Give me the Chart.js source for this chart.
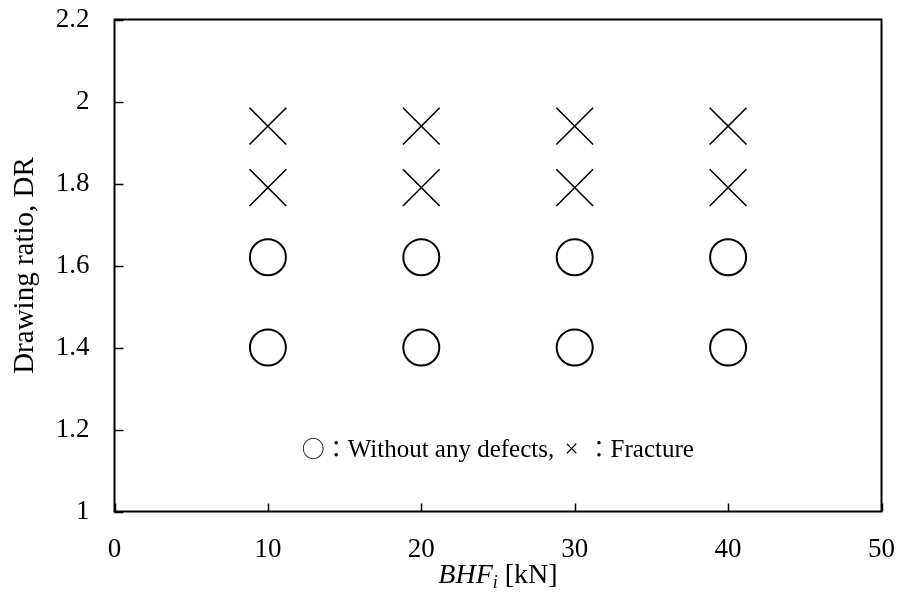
<!DOCTYPE html>
<html>
<head>
<meta charset="utf-8">
<script src="https://cdn.jsdelivr.net/npm/chart.js@4.4.0/dist/chart.umd.min.js"></script>
<style>
html, body { margin: 0; padding: 0; background: #fff; }
</style>
</head>
<body>
<canvas id="myChart" width="899" height="607"></canvas>
<script>
// values
const bhfLevels = [10, 20, 30, 40];
const okRatios = [1.4, 1.62];        // circles: without any defects
const fractureRatios = [1.79, 1.94]; // crosses: fracture
const xTicks = [0, 10, 20, 30, 40, 50];
const yTicks = [1, 1.2, 1.4, 1.6, 1.8, 2, 2.2];
// note pieces: [text, cjk?, extra gap after]
const noteParts = [['○：', true, 0], ['Without any defects, ', false, 4], ['×', false, 9], ['：', true, 0], ['Fracture', false, 0]];

const serif = "'Liberation Serif', 'Times New Roman', serif";
const cjk = "'Noto Sans CJK JP', sans-serif";

const makePoints = (ratios) => {
    const pts = [];
    for (let i = 0; i < ratios.length; i++) {
        for (let j = 0; j < bhfLevels.length; j++) {
            pts.push({ x: bhfLevels[j], y: ratios[i] });
        }
    }
    return pts;
};

// box round the plot, inward ticks, note and x title
const framePlugin = {
    id: 'frame',
    afterDraw(chart) {
        const ctx = chart.ctx;
        const area = chart.chartArea;
        const xs = chart.scales.x;
        const ys = chart.scales.y;
        ctx.save();
        ctx.strokeStyle = '#000';
        ctx.lineWidth = 2;
        ctx.strokeRect(area.left, area.top, area.right - area.left, area.bottom - area.top);

        ctx.lineWidth = 1.5;
        ctx.beginPath();
        xTicks.forEach(v => {
            const px = Math.round(xs.getPixelForValue(v)) + 0.5;
            ctx.moveTo(px, area.bottom);
            ctx.lineTo(px, area.bottom - 8);
        });
        yTicks.forEach(v => {
            const py = Math.round(ys.getPixelForValue(v)) + 0.5;
            ctx.moveTo(area.left, py);
            ctx.lineTo(area.left + 9, py);
        });
        ctx.stroke();

        // note inside the plot
        ctx.fillStyle = '#000';
        ctx.textAlign = 'left';
        ctx.textBaseline = 'alphabetic';
        let nx = xs.getPixelForValue(12.2);
        const ny = ys.getPixelForValue(1.133);
        noteParts.forEach(p => {
            ctx.font = p[1] ? '23px ' + cjk : '25px ' + serif;
            ctx.fillText(p[0], nx, ny);
            nx += ctx.measureText(p[0]).width + p[2];
        });

        // x title: BHF_i [kN]
        const baseY = 583;
        const partA = 'BHF';
        const partB = 'i';
        const partC = ' [kN]';
        ctx.font = 'italic 28px ' + serif;
        const wA = ctx.measureText(partA).width;
        ctx.font = 'italic 18px ' + serif;
        const wB = ctx.measureText(partB).width;
        ctx.font = '28px ' + serif;
        const wC = ctx.measureText(partC).width;
        let x0 = (area.left + area.right) / 2 - (wA + wB + wC) / 2;
        ctx.font = 'italic 28px ' + serif;
        ctx.fillText(partA, x0, baseY);
        ctx.font = 'italic 18px ' + serif;
        ctx.fillText(partB, x0 + wA, baseY + 5);
        ctx.font = '28px ' + serif;
        ctx.fillText(partC, x0 + wA + wB, baseY);
        ctx.restore();
    }
};

new Chart(document.getElementById('myChart'), {
    type: 'scatter',
    data: {
        datasets: [{
            label: 'Without any defects',
            data: makePoints(okRatios),
            pointStyle: 'circle',
            pointRadius: 18,
            pointHoverRadius: 18,
            pointBorderWidth: 2,
            pointBackgroundColor: 'rgba(0,0,0,0)',
            pointBorderColor: '#000'
        }, {
            label: 'Fracture',
            data: makePoints(fractureRatios),
            pointStyle: 'crossRot',
            pointRadius: 26,
            pointHoverRadius: 26,
            pointBorderWidth: 1.6,
            pointBorderColor: '#000'
        }]
    },
    options: {
        responsive: false,
        animation: false,
        devicePixelRatio: 1,
        layout: { autoPadding: false, padding: { top: 19.5, right: 17.5, left: 0, bottom: 0 } },
        plugins: {
            legend: { display: false },
            tooltip: { enabled: false }
        },
        scales: {
            x: {
                type: 'linear',
                min: 0,
                max: 50,
                afterBuildTicks: (scale) => { scale.ticks = xTicks.map(v => ({ value: v })); },
                afterFit: (scale) => {
                    scale.height = 95.5;
                    scale.paddingLeft = 0;
                    scale.paddingRight = 0;
                },
                grid: { display: false, drawTicks: false },
                border: { display: false },
                ticks: {
                    padding: 22,
                    color: '#000',
                    font: { family: serif, size: 27 }
                }
            },
            y: {
                type: 'linear',
                min: 1,
                max: 2.2,
                afterBuildTicks: (scale) => { scale.ticks = yTicks.map(v => ({ value: v })); },
                afterFit: (scale) => {
                    scale.width = 114.5;
                    scale.paddingTop = 0;
                    scale.paddingBottom = 0;
                },
                grid: { display: false, drawTicks: false },
                border: { display: false },
                ticks: {
                    padding: 25,
                    color: '#000',
                    font: { family: serif, size: 27 },
                    callback: (v) => String(Math.round(v * 10) / 10)
                },
                title: {
                    display: true,
                    text: 'Drawing ratio, DR',
                    color: '#000',
                    font: { family: serif, size: 29 },
                    padding: { top: 8, bottom: 0 }
                }
            }
        }
    },
    plugins: [framePlugin]
});
</script>
</body>
</html>
